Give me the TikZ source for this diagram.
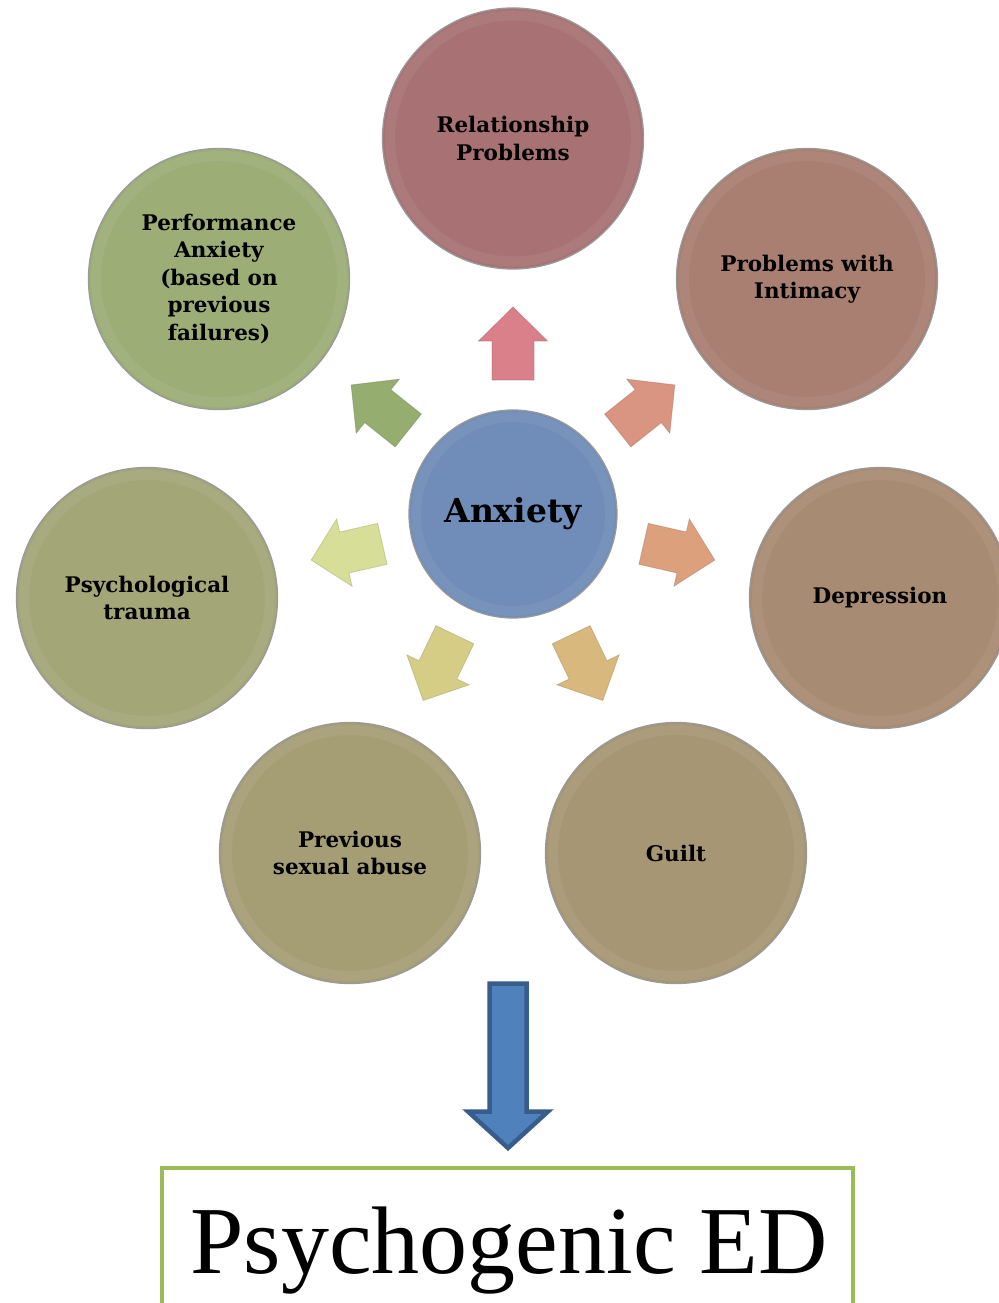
\documentclass[tikz,border=0pt]{standalone}
\usepackage{fontspec}
\setmainfont{DejaVu Serif}
\newfontfamily\edfont{Liberation Serif}
\usetikzlibrary{calc}
\definecolor{cRel}{HTML}{A87274}
\definecolor{cInt}{HTML}{A87F71}
\definecolor{cDep}{HTML}{A88B73}
\definecolor{cGui}{HTML}{A69674}
\definecolor{cPrev}{HTML}{A59E75}
\definecolor{cPsy}{HTML}{A3A677}
\definecolor{cPerf}{HTML}{9CAE76}
\definecolor{cAnx}{HTML}{6F8DB8}
\definecolor{aUp}{HTML}{D9808A}
\definecolor{aUR}{HTML}{DA9482}
\definecolor{aR}{HTML}{DDA07C}
\definecolor{aDR}{HTML}{D8B87C}
\definecolor{aDL}{HTML}{D5CD86}
\definecolor{aL}{HTML}{D6DE97}
\definecolor{aUL}{HTML}{95AE70}
\definecolor{blueF}{HTML}{4F81BD}
\definecolor{blueD}{HTML}{385D8A}
\definecolor{boxG}{HTML}{9BBB59}
\tikzset{
  bubble/.style={circle, minimum size=261pt, inner sep=0pt, align=center,
    font=\fontsize{21.5}{27.5}\selectfont\bfseries, draw=black!40, line width=1.3pt},
  rim/.style={line width=10pt, white, opacity=0.06},
  blockarr/.style={fill=#1, draw=#1!75!black, draw opacity=0.45, line width=0.8pt, line join=miter},
}
\begin{document}
\begin{tikzpicture}[x=1pt,y=-1pt]
\useasboundingbox (0,0) rectangle (998,1303);
\fill[white] (0,0) rectangle (998,1303);

% satellite circles
\node[bubble, fill=cRel]  (rel)  at (513,138.5) {Relationship\\Problems};
\node[bubble, fill=cInt]  (int)  at (807,279)   {Problems with\\Intimacy};
\node[bubble, fill=cDep]  (dep)  at (880,598)   {Depression};
\node[bubble, fill=cGui]  (gui)  at (676,853)   {Guilt};
\node[bubble, fill=cPrev] (prev) at (350,853)   {Previous\\sexual abuse};
\node[bubble, fill=cPsy]  (psy)  at (147,598)   {Psychological\\trauma};
\node[bubble, fill=cPerf] (perf) at (219,279)   {Performance\\Anxiety\\(based on\\previous\\failures)};

% central circle
\node[bubble, fill=cAnx, minimum size=208pt, font=\fontsize{33}{38}\selectfont\bfseries] (anx) at (513,514) {Anxiety};

% soft inner rims
\foreach \n in {rel,int,dep,gui,prev,psy,perf}{
  \draw[rim] (\n.center) circle (123pt);
}
\draw[rim] (anx.center) circle (97pt);

% radial block arrows
\foreach \a/\c in {90/aUp, 38.57/aUR, -12.86/aR, -64.29/aDR, -115.71/aDL, -167.14/aL, 141.43/aUL}{
  \begin{scope}[shift={(anx.center)}, rotate=\a]
    \path[blockarr=\c] (134pt,21pt) -- (173pt,21pt) -- (173pt,34.5pt) -- (207pt,0pt)
      -- (173pt,-34.5pt) -- (173pt,-21pt) -- (134pt,-21pt) -- cycle;
  \end{scope}
}

% bottom box
\draw[boxG, line width=4pt] (162,1303) -- (162,1168) -- (853,1168) -- (853,1303);
\node[anchor=base, font=\edfont\fontsize{96}{100}\selectfont] (ed) at (509,1273) {Psychogenic ED};

% big blue arrow
\draw[fill=blueF, draw=blueD, line width=4.5pt, line join=miter]
  (489.5,983.5) -- (526.5,983.5) -- (526.5,1111.5) -- (548,1111.5) -- (508,1148)
  -- (468,1111.5) -- (489.5,1111.5) -- cycle;
\end{tikzpicture}
\end{document}
